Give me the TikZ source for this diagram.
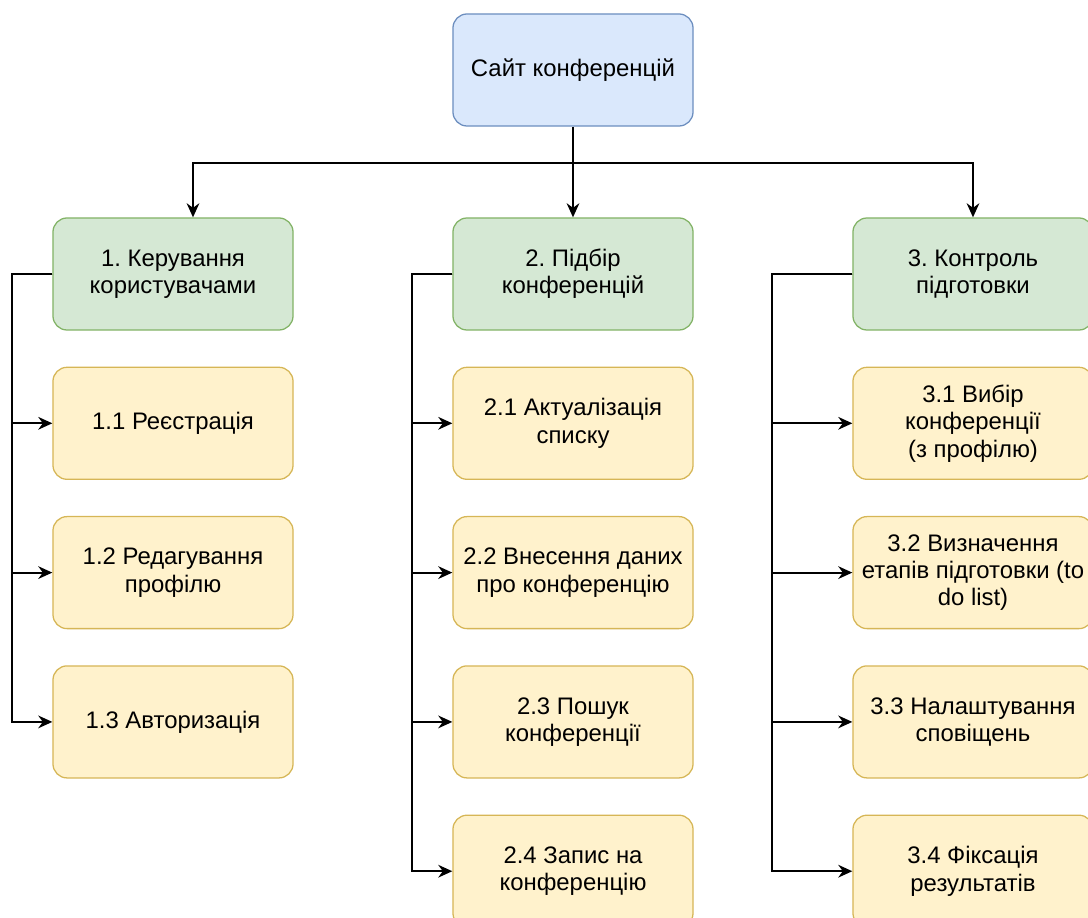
\documentclass[tikz,border=0pt]{standalone}
\usepackage{fontspec}
\setmainfont{Liberation Sans}
\frenchspacing
\usetikzlibrary{arrows.meta,positioning}
\definecolor{bluefill}{HTML}{DAE8FC}
\definecolor{blueline}{HTML}{6C8EBF}
\definecolor{greenfill}{HTML}{D5E8D4}
\definecolor{greenline}{HTML}{82B366}
\definecolor{yellowfill}{HTML}{FFF2CC}
\definecolor{yellowline}{HTML}{D6B656}

\begin{document}
\begin{tikzpicture}[x=0.025cm,y=-0.025cm,
	box/.style={draw,rounded corners=10pt,minimum width=6cm,minimum height=2.8cm,align=center,
		font=\fontsize{17}{19.5}\selectfont,line width=0.9pt},
	site/.style={box,draw=blueline,fill=bluefill},
	group/.style={box,draw=greenline,fill=greenfill},
	task/.style={box,draw=yellowline,fill=yellowfill},
	arr/.style={-{Stealth[length=10pt,width=9pt]},line width=1.5pt}]
	\clip (0,0) rectangle (1088,918);
	\node[site] (0) at (573,70) {Сайт конференцій};
	\node[group] (1) at (173,274) {1. Керування\\користувачами};
	\node[group] (2) at (573,274) {2. Підбір\\конференцій};
	\node[group] (3) at (973,274) {3. Контроль\\підготовки};

	\node[task] (11) [below = 0.9cm of 1] {1.1 Реєстрація};
	\node[task] (12) [below = 0.9cm of 11] {1.2 Редагування\\профілю};
	\node[task] (13) [below = 0.9cm of 12] {1.3 Авторизація};

	\node[task] (21) [below = 0.9cm of 2] {2.1 Актуалізація\\списку};
	\node[task] (22) [below = 0.9cm of 21] {2.2 Внесення даних\\про конференцію};
	\node[task] (23) [below = 0.9cm of 22] {2.3 Пошук\\конференції};
	\node[task] (24) [below = 0.9cm of 23] {2.4 Запис на\\конференцію};

	\node[task] (31) [below = 0.9cm of 3] {3.1 Вибір\\конференції\\(з профілю)};
	\node[task] (32) [below = 0.9cm of 31] {3.2 Визначення\\етапів підготовки (to\\do list)};
	\node[task] (33) [below = 0.9cm of 32] {3.3 Налаштування\\сповіщень};
	\node[task] (34) [below = 0.9cm of 33] {3.4 Фіксація\\результатів};

	\coordinate (bus) at (573,163);
	\draw[arr] (0.south) -- (bus) -| ([xshift=0.5cm]1.north);
	\draw[arr] (bus) -- (2.north);
	\draw[arr] (bus) -| (3.north);

	\foreach \g/\t/\d in {1/11/1,1/12/1,1/13/1,2/21/1,2/22/1,2/23/1,2/24/1,3/31/2,3/32/2,3/33/2,3/34/2}
		\draw[arr] (\g.west) -- ++(-\d cm,0) |- (\t.west);
\end{tikzpicture}
\end{document}
